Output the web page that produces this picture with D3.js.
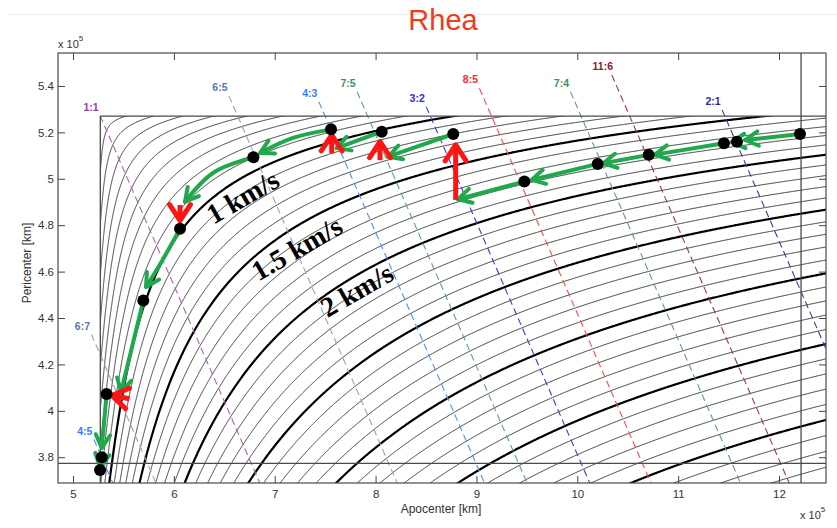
<!DOCTYPE html>
<html><head><meta charset="utf-8">
<script src="https://cdn.jsdelivr.net/npm/d3@7"></script>
<style>body{margin:0;background:#fff}svg{display:block}</style>
</head><body>
<svg id="c" width="837" height="528"></svg>
<script>
// ---------------- data (distances in 1e5 km) ----------------
const rRhea = 5.2704, rDione = 3.774, rTitan = 12.2187;
const muSaturn = 3.7931e7; // km^3/s^2
const xTicks = [5, 6, 7, 8, 9, 10, 11, 12];
const xTickLabels = ["5", "6", "7", "8", "9", "10", "11", "12"];
const yTicks = [3.8, 4, 4.2, 4.4, 4.6, 4.8, 5, 5.2, 5.4];
const yTickLabels = ["3.8", "4", "4.2", "4.4", "4.6", "4.8", "5", "5.2", "5.4"];
const vinfLevels = [0.1,0.2,0.3,0.4,0.5,0.6,0.7,0.8,0.9,1.0,1.1,1.2,1.3,1.4,1.5,1.6,1.7,1.8,1.9,2.0,
  2.1,2.2,2.3,2.4,2.5,2.6,2.7,2.8,2.9,3.0,3.1,3.2,3.3,3.4,3.5,3.6,3.7,3.8,3.9,4.0,4.1,4.2,4.3,4.4,4.5];
const boldLevels = [1, 1.5, 2, 2.5, 3, 3.5, 4, 4.5];
const resLabels = ["1:1", "6:5", "4:3", "7:5", "3:2", "8:5", "7:4", "11:6", "2:1", "6:7", "4:5"];
const resRatios = [1, 6/5, 4/3, 7/5, 3/2, 8/5, 7/4, 11/6, 2, 6/7, 4/5];
const resStartRp = [5.272, 5.357, 5.332, 5.375, 5.311, 5.390, 5.375, 5.447, 5.297, 4.329, 3.877];
const contourLabels = ["1 km/s", "1.5 km/s", "2 km/s"];
const contourLabelAt = [[6.681, 4.923], [7.218, 4.701], [7.813, 4.521]];
const dotRa = [12.208, 11.583, 11.454, 10.708, 10.202, 9.475, 8.770, 8.061, 7.558, 6.788, 6.061, 5.697, 5.333, 5.285, 5.268];
const dotRp = [5.193, 5.160, 5.153, 5.103, 5.064, 4.988, 5.193, 5.203, 5.213, 5.093, 4.785, 4.475, 4.073, 3.800, 3.745];
const greenLegs = [
  [[12.208, 5.193], [11.663, 5.167]],
  [[11.583, 5.160], [11.531, 5.158]],
  [[11.454, 5.153], [10.77, 5.104]],
  [[10.708, 5.103], [10.258, 5.067]],
  [[10.202, 5.064], [9.547, 4.995]],
  [[9.475, 4.988], [8.817, 4.912]],
  [[8.770, 5.193], [8.126, 5.095]],
  [[8.061, 5.203], [7.614, 5.132]],
  [[7.558, 5.213], [7.181, 5.176], [6.854, 5.111]],
  [[6.788, 5.093], [6.388, 5.025], [6.110, 4.901]],
  [[6.061, 4.785], [5.882, 4.646], [5.724, 4.534]],
  [[5.697, 4.475], [5.476, 4.081]],
  [[5.333, 4.073], [5.285, 3.840]],
  [[5.285, 3.800], [5.268, 3.758]]
];
const redArrows = [
  [[8.794, 4.909], [8.794, 5.146]],
  [[8.044, 5.080], [8.044, 5.160]],
  [[7.565, 5.110], [7.565, 5.189]],
  [[6.061, 4.887], [6.061, 4.820]],
  [[5.560, 4.052], [5.385, 4.066]]
];

// ---------------- styles ----------------
const resColors = ["#9a3aa8", "#5b74ab", "#2f80ff", "#3f8f63", "#2b2bd6", "#ff2a2a", "#3f8f63", "#8b1c1c", "#2b2b9a", "#5b74ab", "#2f80ff"];
const resLineColors = ["#b060c0", "#8ea4cf", "#4a90ff", "#5fa080", "#3a3ae0", "#ff4a4a", "#5fa080", "#a03a3a", "#3a3aa8", "#8ea4cf", "#4a90ff"];
const green = "#1fa84c", red = "#ff1414";
const sans = "'Liberation Sans', Arial, sans-serif";

const svg = d3.select("#c");
const x = d3.scaleLinear().domain([4.851, 12.466]).range([58, 826]);
const y = d3.scaleLinear().domain([5.542, 3.689]).range([53, 483]);
const X0 = 58, X1 = 826, Y0 = 53, Y1 = 483;

svg.append("line").attr("x1", 8).attr("x2", 837).attr("y1", 14.5).attr("y2", 14.5)
  .attr("stroke", "#ececec").attr("stroke-width", 1);

svg.append("text").attr("x", 443).attr("y", 29.5).attr("text-anchor", "middle")
  .attr("font-family", sans).attr("font-size", 29).attr("fill", "#f03c16").text("Rhea");

const defs = svg.append("defs");
defs.append("clipPath").attr("id", "valid").append("rect")
  .attr("x", x(rRhea)).attr("y", y(rRhea)).attr("width", X1 - x(rRhea)).attr("height", Y1 - y(rRhea));
defs.append("clipPath").attr("id", "frame").append("rect")
  .attr("x", X0).attr("y", Y0).attr("width", X1 - X0).attr("height", Y1 - Y0);

// ---------------- v-infinity contours ----------------
const vR = Math.sqrt(muSaturn / (rRhea * 1e5));
function vinf(ra, rp) {
  const A = ra / rRhea, P = rp / rRhea;
  const a = (A + P) / 2, p = 2 * A * P / (A + P);
  const v2 = 3 - 1 / a - 2 * Math.sqrt(p);
  return vR * Math.sqrt(Math.max(v2, 0));
}
const step = 1;
const gx0 = x(rRhea) - 8, gy0 = y(rRhea) - 8, gx1 = X1 + 8, gy1 = Y1 + 8;
const n = Math.ceil((gx1 - gx0) / step), m = Math.ceil((gy1 - gy0) / step);
const values = new Float64Array(n * m);
for (let j = 0; j < m; j++) {
  const rp = y.invert(gy0 + (j + 0.5) * step);
  for (let i = 0; i < n; i++) {
    values[j * n + i] = vinf(x.invert(gx0 + (i + 0.5) * step), rp);
  }
}
const contours = d3.contours().size([n, m]).thresholds(vinfLevels)(values);
const gridPath = d3.geoPath(d3.geoTransform({
  point(px, py) { this.stream.point(gx0 + px * step, gy0 + py * step); }
}));
const isBold = v => boldLevels.some(b => Math.abs(b - v) < 1e-6);
svg.append("g").attr("clip-path", "url(#valid)")
  .selectAll("path").data(contours).join("path")
  .attr("d", gridPath)
  .attr("fill", "none")
  .attr("stroke", d => isBold(d.value) ? "#000" : "#2a2a2a")
  .attr("stroke-width", d => isBold(d.value) ? 2.2 : 0.9);

// ---------------- resonance lines ----------------
const gRes = svg.append("g");
resLabels.forEach((lab, k) => {
  const sum = 2 * rRhea * Math.pow(resRatios[k], 2 / 3);
  const rp0 = resStartRp[k], ra0 = sum - rp0;
  const rp1 = 3.5, ra1 = sum - rp1;
  gRes.append("line").attr("clip-path", "url(#frame)")
    .attr("x1", x(ra0)).attr("y1", y(rp0)).attr("x2", x(ra1)).attr("y2", y(rp1))
    .attr("stroke", resLineColors[k]).attr("stroke-width", 1.1).attr("stroke-dasharray", "7,4");
  gRes.append("text").attr("x", x(ra0) - 9).attr("y", y(rp0) - 8.5).attr("dy", "0.35em")
    .attr("text-anchor", "middle").attr("font-family", sans).attr("font-weight", "bold")
    .attr("font-size", 10.5).attr("fill", resColors[k]).text(lab);
});

// ---------------- moon orbit lines ----------------
const gM = svg.append("g").attr("stroke", "#4a4a4a").attr("stroke-width", 1.3);
gM.append("line").attr("x1", x(rRhea)).attr("x2", x(rRhea)).attr("y1", y(rRhea)).attr("y2", Y1);
gM.append("line").attr("x1", x(rRhea)).attr("x2", X1).attr("y1", y(rRhea)).attr("y2", y(rRhea));
gM.append("line").attr("x1", X0).attr("x2", X1).attr("y1", y(rDione)).attr("y2", y(rDione));
gM.append("line").attr("x1", x(rTitan)).attr("x2", x(rTitan)).attr("y1", Y0).attr("y2", Y1);

// ---------------- axes ----------------
function styleAxis(g) {
  g.select(".domain").remove();
  g.selectAll(".tick line").attr("stroke", "#444");
  g.selectAll(".tick text").attr("fill", "#333").attr("font-family", sans).attr("font-size", 11.5);
}
svg.append("g").attr("transform", `translate(0,${Y1})`)
  .call(d3.axisBottom(x).tickValues(xTicks).tickFormat((d, i) => xTickLabels[i]).tickSize(-7).tickPadding(7)).call(styleAxis);
svg.append("g").attr("transform", `translate(0,${Y0})`)
  .call(d3.axisTop(x).tickValues(xTicks).tickFormat("").tickSize(-7)).call(styleAxis);
svg.append("g").attr("transform", `translate(${X0},0)`)
  .call(d3.axisLeft(y).tickValues(yTicks).tickFormat((d, i) => yTickLabels[i]).tickSize(-7).tickPadding(4)).call(styleAxis);
svg.append("g").attr("transform", `translate(${X1},0)`)
  .call(d3.axisRight(y).tickValues(yTicks).tickFormat("").tickSize(-7)).call(styleAxis);
svg.append("rect").attr("x", X0).attr("y", Y0).attr("width", X1 - X0).attr("height", Y1 - Y0)
  .attr("fill", "none").attr("stroke", "#4a4a4a").attr("stroke-width", 1.2);

svg.append("text").attr("x", 441).attr("y", 513).attr("text-anchor", "middle")
  .attr("font-family", sans).attr("font-size", 12).attr("fill", "#333").text("Apocenter [km]");
svg.append("text").attr("transform", "translate(31,263) rotate(-90)").attr("text-anchor", "middle")
  .attr("font-family", sans).attr("font-size", 12).attr("fill", "#333").text("Pericenter [km]");
function expo(xp, yp) {
  const t = svg.append("text").attr("x", xp).attr("y", yp).attr("font-family", sans)
    .attr("font-size", 11).attr("fill", "#333");
  t.append("tspan").text("x 10");
  t.append("tspan").attr("dy", -7).attr("font-size", 8).text("5");
}
expo(58, 48);
expo(800, 519);

// ---------------- contour labels ----------------
contourLabels.forEach((lab, k) => {
  const [ra, rp] = contourLabelAt[k];
  svg.append("text").attr("transform", `translate(${x(ra)},${y(rp)}) rotate(-30)`)
    .attr("text-anchor", "middle").attr("dy", "0.35em")
    .attr("font-family", "'Liberation Serif', 'Times New Roman', serif").attr("font-weight", "bold")
    .attr("font-size", 28).attr("fill", "#000").text(lab);
});

// ---------------- trajectory ----------------
function head(g, tip, ang, len, half, color, w) {
  const p1 = [tip[0] - len * Math.cos(ang - half), tip[1] - len * Math.sin(ang - half)];
  const p2 = [tip[0] - len * Math.cos(ang + half), tip[1] - len * Math.sin(ang + half)];
  g.append("path").attr("d", `M${p1}L${tip}L${p2}`).attr("fill", "none")
    .attr("stroke", color).attr("stroke-width", w).attr("stroke-linejoin", "round").attr("stroke-linecap", "round");
}
const gT = svg.append("g");
const lineGen = d3.line().x(d => x(d[0])).y(d => y(d[1])).curve(d3.curveCatmullRom.alpha(0.5));
greenLegs.forEach(leg => {
  const p = gT.append("path").attr("d", lineGen(leg)).attr("fill", "none")
    .attr("stroke", green).attr("stroke-width", 4).attr("stroke-linecap", "round");
  const node = p.node(), L = node.getTotalLength();
  const a = node.getPointAtLength(L), b = node.getPointAtLength(Math.max(0, L - 4));
  head(gT, [a.x, a.y], Math.atan2(a.y - b.y, a.x - b.x), 15, 0.5, green, 4);
});
const straight = d3.line().x(d => x(d[0])).y(d => y(d[1]));
redArrows.forEach(arr => {
  gT.append("path").attr("d", straight(arr)).attr("fill", "none")
    .attr("stroke", red).attr("stroke-width", 5).attr("stroke-linecap", "butt");
  const t = [x(arr[1][0]), y(arr[1][1])], s = [x(arr[0][0]), y(arr[0][1])];
  head(gT, t, Math.atan2(t[1] - s[1], t[0] - s[0]), 19, 0.58, red, 5);
});
gT.selectAll("circle").data(dotRa).join("circle")
  .attr("cx", d => x(d)).attr("cy", (d, i) => y(dotRp[i])).attr("r", 6).attr("fill", "#000");
</script>
</body></html>
